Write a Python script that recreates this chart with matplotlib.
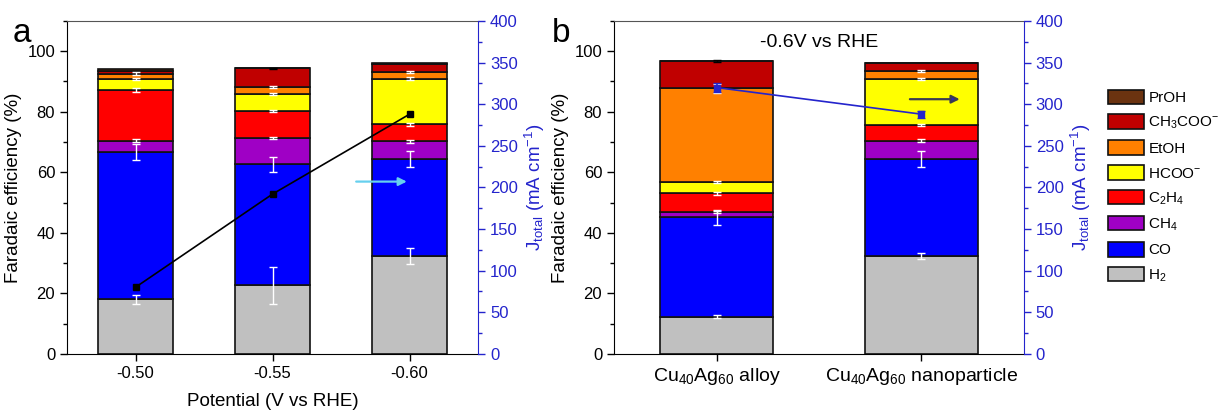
import numpy as np
import matplotlib
matplotlib.use("Agg")
import matplotlib.pyplot as plt
from matplotlib.patches import Patch
from matplotlib.ticker import MultipleLocator

plt.rcParams['font.family'] = ['Liberation Sans', 'DejaVu Sans']
plt.rcParams['mathtext.fontset'] = 'custom'
plt.rcParams['mathtext.rm'] = 'Liberation Sans'
plt.rcParams['mathtext.it'] = 'Liberation Sans'

# ---- data -------------------------------------------------------------
species = ['H2', 'CO', 'CH4', 'C2H4', 'HCOO', 'EtOH', 'CH3COO', 'PrOH']
species_labels = ['H$_2$', 'CO', 'CH$_4$', 'C$_2$H$_4$', 'HCOO$^{-}$', 'EtOH',
                  'CH$_3$COO$^{-}$', 'PrOH']
species_colors = ['#c0c0c0', '#0000ff', '#9f00c5', '#ff0000', '#ffff00',
                  '#ff8000', '#c00000', '#6b3310']

# panel a: potential series
potentials = ['-0.50', '-0.55', '-0.60']
fe_a = {
    'H2':     [18.0, 22.7, 32.3],
    'CO':     [48.6, 40.0, 32.1],
    'CH4':    [3.9, 8.7, 5.9],
    'C2H4':   [16.7, 8.8, 5.5],
    'HCOO':   [3.7, 5.7, 15.1],
    'EtOH':   [1.7, 2.3, 2.3],
    'CH3COO': [1.0, 6.1, 2.7],
    'PrOH':   [0.4, 0.1, 0.1],
}
err_a = {
    'H2':     [1.6, 6.1, 2.6],
    'CO':     [2.6, 2.5, 2.5],
    'CH4':    [0.5, 0.3, 0.5],
    'C2H4':   [0.7, 0.4, 0.5],
    'HCOO':   [0.4, 0.3, 0.5],
    'EtOH':   [0.4, 0.3, 0.3],
    'CH3COO': [0.0, 0.2, 0.0],
    'PrOH':   [0.0, 0.0, 0.0],
}
j_total_a = [80, 192, 288]

# panel b: catalyst comparison at -0.6 V
catalysts = ['Cu$_{40}$Ag$_{60}$ alloy', 'Cu$_{40}$Ag$_{60}$ nanoparticle']
fe_b = {
    'H2':     [12.2, 32.3],
    'CO':     [32.9, 32.1],
    'CH4':    [1.9, 6.1],
    'C2H4':   [6.0, 5.2],
    'HCOO':   [3.7, 15.2],
    'EtOH':   [31.1, 2.6],
    'CH3COO': [9.0, 2.5],
    'PrOH':   [0.1, 0.1],
}
err_b = {
    'H2':     [0.5, 1.1],
    'CO':     [2.6, 2.5],
    'CH4':    [0.3, 0.4],
    'C2H4':   [0.4, 0.4],
    'HCOO':   [0.4, 0.4],
    'EtOH':   [1.5, 0.4],
    'CH3COO': [0.2, 0.0],
    'PrOH':   [0.0, 0.0],
}
j_total_b = [320, 288]
j_total_b_err = [5, 4]

JBLUE = '#2424cc'
BAR_W = 0.55
TICK_FS = 12
LABEL_FS = 13.5


def stacked(ax, labels, fe, err, xtick_fs):
    x = np.arange(len(labels))
    bottom = np.zeros(len(labels))
    for sp, col in zip(species, species_colors):
        vals = np.array(fe[sp])
        ax.bar(x, vals, BAR_W, bottom=bottom, color=col, edgecolor='#111111',
               linewidth=1.2, zorder=2)
        top = bottom + vals
        e = np.array(err[sp])
        ecol = 'black' if sp in ('CH3COO', 'PrOH') else 'white'
        mask = e > 0
        if mask.any():
            ax.errorbar(x[mask], top[mask], yerr=e[mask], fmt='none',
                        ecolor=ecol, elinewidth=1.0, capsize=3, capthick=1.0,
                        zorder=3)
        bottom = top
    ax.set_xticks(x)
    ax.set_xticklabels(labels)
    ax.set_xlim(-0.5, len(labels) - 0.5)
    ax.set_ylim(0, 110)
    ax.yaxis.set_major_locator(MultipleLocator(20))
    ax.yaxis.set_minor_locator(MultipleLocator(10))
    ax.tick_params(axis='both', labelsize=TICK_FS, direction='out', length=5,
                   width=1)
    ax.tick_params(axis='x', labelsize=xtick_fs)
    ax.tick_params(axis='y', which='minor', length=3, width=1)
    ax.set_ylabel('Faradaic efficiency (%)', fontsize=LABEL_FS)
    ax.spines['top'].set_color('#555555')
    ax.spines['right'].set_visible(False)
    return x


def j_axis(ax):
    ax2 = ax.twinx()
    ax2.set_ylim(0, 400)
    ax2.yaxis.set_major_locator(MultipleLocator(50))
    ax2.yaxis.set_minor_locator(MultipleLocator(25))
    ax2.tick_params(axis='y', colors=JBLUE, labelsize=TICK_FS, length=5, width=1)
    ax2.tick_params(axis='y', which='minor', colors=JBLUE, length=3, width=1)
    for s in ('left', 'top', 'bottom'):
        ax2.spines[s].set_visible(False)
    ax2.spines['right'].set_color(JBLUE)
    ax2.set_ylabel(r'J$_{\mathrm{total}}$ (mA cm$^{-1}$)', color=JBLUE,
                   fontsize=LABEL_FS)
    return ax2


fig = plt.figure(figsize=(12.2, 4.11), dpi=100)
ax_a = fig.add_axes([0.0549, 0.139, 0.337, 0.810])
ax_b = fig.add_axes([0.5033, 0.139, 0.336, 0.810])

# panel a
xa = stacked(ax_a, potentials, fe_a, err_a, TICK_FS)
ax_a.set_xlabel('Potential (V vs RHE)', fontsize=LABEL_FS, labelpad=9)
ax2a = j_axis(ax_a)
ax2a.plot(xa, j_total_a, color='black', lw=1.2, marker='s', markersize=5,
          zorder=5)
ax2a.annotate('', xy=(2.0, 207), xytext=(1.59, 207),
              arrowprops=dict(arrowstyle='-|>', color='#66d0ee', lw=1.6,
                              mutation_scale=12))

# panel b
xb = stacked(ax_b, catalysts, fe_b, err_b, 14)
ax2b = j_axis(ax_b)
ax2b.errorbar(xb, j_total_b, yerr=j_total_b_err, color=JBLUE, lw=1.2,
              marker='s', markersize=5, capsize=3, zorder=5)
ax2b.annotate('', xy=(1.2, 306), xytext=(0.93, 306),
              arrowprops=dict(arrowstyle='-|>', ec='#3a3a50', fc=JBLUE, lw=1.6,
                              mutation_scale=12))
ax_b.text(0.5, 103, '-0.6V vs RHE', ha='center', va='center', fontsize=14)

# panel letters
fig.text(0.010, 0.955, 'a', fontsize=24, va='top', ha='left')
fig.text(0.452, 0.955, 'b', fontsize=24, va='top', ha='left')

# legend, top entry first
handles = [Patch(facecolor=c, edgecolor='#111111', linewidth=1.2)
           for c in species_colors][::-1]
fig.legend(handles, species_labels[::-1], loc='upper left',
           bbox_to_anchor=(0.903, 0.797), frameon=False, fontsize=11,
           handlelength=2.35, handleheight=1.1, labelspacing=0.6,
           handletextpad=0.3, borderaxespad=0)

fig.savefig('out.png', dpi=100)
